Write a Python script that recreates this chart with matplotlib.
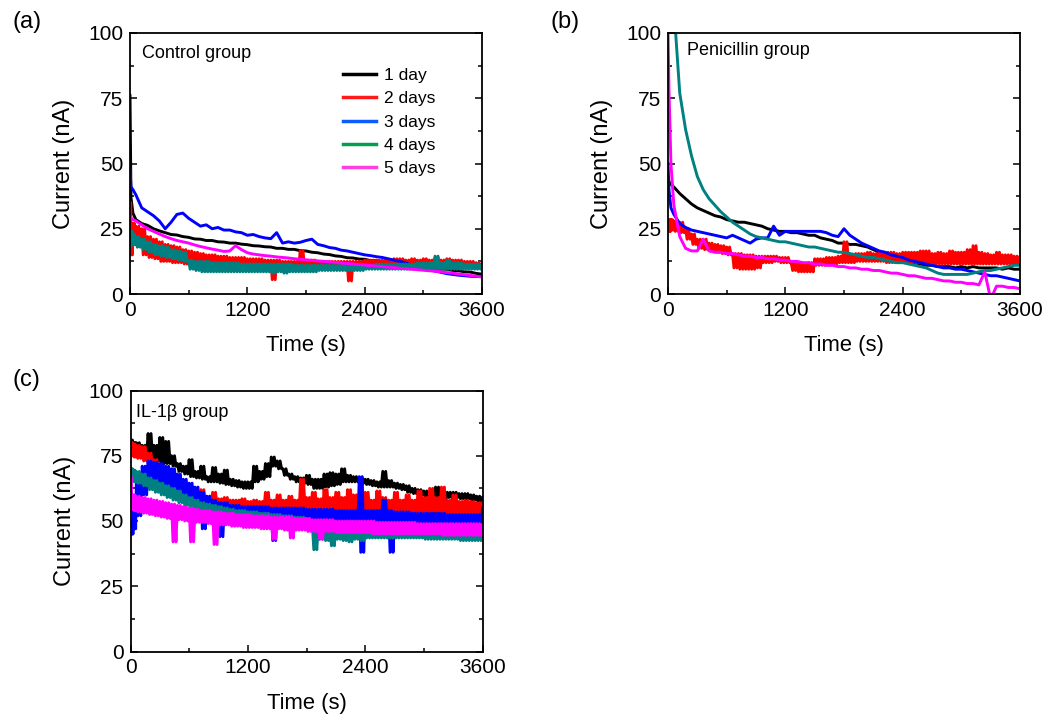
import matplotlib
matplotlib.use('Agg')
import matplotlib.pyplot as plt
from matplotlib.lines import Line2D
from matplotlib.ticker import MultipleLocator
import numpy as np

plt.rcParams['font.family'] = ['Liberation Sans', 'DejaVu Sans']

# common time grid (s)
time = [0, 10, 30] + list(range(60, 3601, 60))

labels = ['1 day', '2 days', '3 days', '4 days', '5 days']
colors = ['#000000', '#ff0000', '#0000ff', '#008080', '#ff00ff']
legend_colors = ['#000000', '#ff1a1a', '#0b5cff', '#00a050', '#ff40e0']

# noisy traces are stored as upper / lower envelope

# (a) Control group
ctrl_1 = [76, 37, 31, 28.5, 27, 26.3, 25, 24.2, 23.5, 22.8, 22.6, 22, 21.7, 21.1, 21, 20.5, 20.5, 20,
          19.9, 19.5, 19.5, 19.1, 18.9, 18.5, 18.4, 18.1, 18, 17.5, 17.5, 17.1, 17.1, 16.6, 16.5, 16,
          15.8, 15.3, 15.1, 14.6, 14.4, 13.9, 13.8, 13.4, 13.3, 12.8, 12.8, 12.3, 12.2, 11.7, 11.6, 11.1,
          11, 10.5, 10.4, 10, 10, 9.5, 9.5, 9, 8.9, 8.5, 8.4, 7.9, 7.6]
ctrl_2_hi = [35, 24, 27, 26, 25, 22, 21, 20, 19, 18.5, 18, 17, 16.5, 16, 15.5, 15, 15, 14.5,
             14.5, 14, 14, 14, 13.5, 13.5, 13.5, 13, 13, 13, 12.5, 12.5, 12.5, 16.5, 12.5, 13, 12.5, 12.5,
             12.5, 12.5, 12.5, 12.5, 12.5, 12.5, 13, 13, 13, 13, 13, 13.5, 13.5, 13, 13.5, 13, 13.5, 13,
             14, 13, 13.5, 13, 13, 12.5, 12.5, 12, 11.5]
ctrl_2_lo = [35, 15, 20, 18, 15, 14, 13.5, 12.5, 12.5, 12, 12, 11.5, 11.5, 11, 11, 10.5, 10.5, 10.5,
             10, 10, 10, 10, 10, 9.5, 9.5, 9.5, 5.5, 9.5, 9, 9, 9, 9, 9, 9, 9.5, 9.5,
             9.5, 9.5, 9.5, 5, 10, 10, 10, 10, 10, 10, 10.5, 10.5, 10.5, 10.5, 10.5, 10.5, 10.5, 10.5,
             10.5, 10.5, 10.5, 10.5, 10, 10, 10, 10, 10]
ctrl_3 = [48, 41, 40, 38, 33, 31.5, 30, 28, 25, 27.5, 30.5, 31, 29, 27.5, 26, 26.5, 25, 25.5,
          24.5, 24.5, 23.8, 23.5, 22.5, 22.8, 22, 21.5, 21.2, 23.5, 19.5, 20, 19.5, 19.8, 20.5, 21,
          19, 18.5, 17.8, 17.5, 16.8, 16.5, 16, 15.5, 15, 14.7, 14.3, 14, 13.5, 13, 12.5, 12,
          11, 10.3, 9.8, 9.3, 8.8, 8.3, 7.8, 7.5, 7.2, 7, 6.8, 6.7, 6.8]
ctrl_4_hi = [22, 24, 23, 22, 21, 20, 19, 18.5, 18, 17, 16.5, 16, 13, 12.5, 12.5, 12.5, 12, 12,
             12, 12, 12, 11.5, 11.5, 11.5, 11.5, 11.5, 11.5, 11.5, 11.5, 11.5, 11, 11, 11, 11, 11, 11,
             11, 11, 11, 11, 11, 11, 11, 11, 11.5, 11.5, 11.5, 11.5, 11.5, 11.5, 11.5, 12, 12, 12,
             14.5, 12, 13, 12, 12, 11.5, 11.5, 11.5, 11]
ctrl_4_lo = [18, 19, 19, 18, 17, 16, 15, 14.5, 14, 13.5, 13, 12.5, 9.5, 9, 8.5, 8.5, 8.5, 8.5,
             8.5, 8.5, 8.5, 8.5, 8.5, 8.5, 8.5, 8.5, 8, 8.5, 8, 8.5, 8.5, 8.5, 8.5, 8.5, 9, 9,
             9, 9, 9, 9, 9, 9, 9.5, 9.5, 9.5, 9.5, 9.5, 9.5, 9.5, 9.5, 9.5, 9.5, 9.5, 9.5,
             9.5, 9.5, 9.5, 9.5, 9.5, 9.5, 9.5, 9.5, 9.5]
ctrl_5 = [30, 29, 28.5, 28, 26.5, 25, 24, 23, 22, 21.2, 20.5, 20, 19.5, 18.8, 18.2, 17.7, 17.2, 16.8,
          16.3, 16.5, 18.5, 17, 15.8, 15.3, 15, 14.7, 14.5, 14.2, 14, 13.8, 13.5, 13.3, 13.1, 12.9,
          12.7, 12.5, 12.3, 12.1, 11.9, 11.7, 11.5, 11.3, 11.1, 10.9, 10.7, 10.5, 10.3, 10.1, 9.9, 9.7,
          9.5, 9.3, 9.1, 8.9, 8.7, 8.5, 8.2, 8, 7.7, 7.4, 7.1, 6.8, 6.5]

# (b) Penicillin group
pen_1 = [45, 43, 42, 41, 38.5, 36.5, 34.5, 33, 32, 31, 30, 29.5, 28.5, 28, 27.5, 27.5, 27, 26.5,
         26, 25, 24.5, 24, 24, 23.5, 23.5, 23, 22.5, 22.5, 21.5, 21, 20.5, 19.5, 19.5, 19, 19, 18.5,
         18, 17, 16, 15.5, 14.5, 14, 13.5, 12.5, 12, 11.5, 11, 11, 10.5, 10.5, 10.5, 10, 10.5, 10,
         10.5, 10, 10, 10, 10, 9.5, 10, 9.5, 9.5]
pen_2_hi = [27, 28.5, 28.5, 28, 27.5, 25, 23, 21, 21, 19.5, 19, 18.5, 18, 15.5, 15.5, 15, 15, 14.5,
            14.5, 14.5, 14.5, 14, 14, 12, 12, 11.5, 12, 13.5, 13.5, 14, 14, 14.5, 20, 15, 15.5, 15.5,
            16, 15.5, 16, 16, 16, 15.5, 16, 16, 16, 16.5, 16.5, 15.5, 16, 15.5, 16.5, 16, 16, 17,
            18.5, 16, 15.5, 15, 16, 15, 15, 14.5, 14]
pen_2_lo = [24, 24, 24.5, 24, 23.5, 21, 19, 17.5, 17, 16.5, 16, 15.5, 15, 10, 9.5, 9.5, 9.5, 10,
            12, 12, 12.5, 12, 12, 9, 8.5, 8.5, 8.5, 11, 11, 11, 11.5, 12, 12, 12, 12.5, 12.5,
            12.5, 12.5, 12.5, 12, 12, 12, 12, 12, 12, 12, 12, 11.5, 11.5, 11.5, 11.5, 11.5, 11.5, 11.5,
            11.5, 11.5, 11.5, 11.5, 11.5, 11.5, 11.5, 11.5, 11.5]
pen_3 = [50, 40, 33, 30.5, 27, 25.5, 24.5, 24, 23.5, 23, 22.5, 22, 21.5, 22.5, 21.5, 20.5, 19.5, 21,
         21.5, 21.5, 26, 22.5, 24, 24, 24, 24, 24, 24, 24, 23.5, 22.5, 22, 25, 22.5, 21, 19.5,
         18.5, 17.5, 16.5, 16, 15, 14.5, 14, 13, 12.5, 12, 11.5, 11, 10.5, 10, 10, 9.5, 9.5, 9,
         8.5, 8, 7.5, 7, 7, 6.5, 6, 5.5, 5]
pen_4 = [np.nan, np.nan, 170, 110, 77, 63, 53, 45, 40, 36.5, 34, 31.5, 29.5, 27.5, 26, 24.5, 23, 22,
         21.5, 21, 20.5, 20, 20, 19.5, 19, 18.5, 18, 18, 17.5, 17, 16.5, 16, 16, 15.5, 15, 14.5,
         14, 14, 13.5, 13, 12.5, 12, 12, 11.5, 11, 10.5, 10, 9, 8, 7.5, 7.5, 7.5, 7.5, 7.5,
         8, 8.5, 9, 9, 9.5, 10, 10.5, 11, 11]
pen_5 = [100, 78, 50, 34, 22, 17.5, 16.5, 16.5, 21, 16.5, 16, 16, 15.5, 15.5, 15, 14.5, 14.5, 14,
         14, 13.5, 13.5, 13, 13, 12.5, 12.5, 12, 12, 11.5, 11.5, 11, 11, 10.5, 10.5, 10, 10, 9.5,
         9.5, 9, 9, 8.5, 8, 8, 7.5, 7, 7, 6.5, 6, 6, 5.5, 5, 5, 4.5, 4.5, 4,
         4, 3.5, 8.5, -2, 3, 3, 2.5, 2.5, 2]

# (c) IL-1beta group
il_1_hi = [81, 81, 80, 80, 79, 83.5, 79, 82, 80.5, 75, 72, 71, 73.5, 69, 71, 67, 70.5, 68,
           69.5, 66, 65.5, 65, 65, 71, 69, 72, 74.5, 73, 70, 68, 67, 66.5, 67.5, 66, 66, 68,
           68.5, 68, 70, 67.5, 67, 66.5, 66, 65.5, 65, 69, 65.5, 64.5, 64, 63.5, 62.5, 62, 61.5, 61,
           63, 61, 61, 61, 60.5, 60.5, 60, 59.5, 59]
il_1_lo = [79.5, 79, 78, 77, 75, 74, 73, 72, 72, 71, 69, 68, 67, 66.5, 66, 65, 65, 64.5,
           64, 63.5, 63, 62.5, 62.5, 65, 66, 67, 71, 70, 67.5, 66, 65, 64.5, 64, 62.5, 62.5, 63,
           63.5, 64, 65, 65, 65, 64.5, 64, 63.5, 63, 63, 63, 62.5, 62, 61, 60.5, 60, 59.5, 59,
           59, 58.5, 59, 59, 58.5, 58.5, 58, 57.5, 57.5]
il_2_hi = [80, 80, 79.5, 79, 78.5, 76, 73.5, 71, 69, 67, 65, 63, 61.5, 60.5, 62, 59.5, 61, 58.5,
           59, 58, 58, 58.5, 57.5, 58, 57.5, 61, 58, 60, 58, 59.5, 58, 66, 59, 61, 58.5, 62,
           59, 61, 59, 62, 60, 58.5, 61, 58, 61.5, 59, 58, 61, 58, 60, 58, 61.5, 59, 62.5,
           59, 63, 58, 60, 57.5, 58, 57.5, 57, 57]
il_2_lo = [76, 75, 74.5, 74, 73, 70, 67.5, 65.5, 63.5, 61.5, 59.5, 58, 57, 56, 56, 55.5, 55.5, 55,
           55, 55, 54.5, 55, 54.5, 54.5, 54.5, 54.5, 54.5, 54.5, 54, 54, 54, 54, 54, 54, 53.5, 54,
           54, 54, 53.5, 54, 53.5, 52, 53.5, 53, 53.5, 53, 52.5, 53, 53, 53, 53, 53, 53, 53,
           53, 53, 52.5, 53, 52.5, 52.5, 52.5, 52.5, 52.5]
il_3_hi = [50, 49, 58, 66, 71, 73, 72.5, 72, 71, 70, 68, 66, 64.5, 63, 61, 59.5, 58, 57,
           57, 56, 56, 55.5, 55.5, 55.5, 55.5, 55.5, 55, 55, 55, 55, 55, 55, 54.5, 54.5, 54.5, 54.5,
           54.5, 54, 54, 54, 54, 67, 54, 54, 54, 58, 54, 53.5, 53.5, 53.5, 53, 53, 53, 53,
           53, 53, 52.5, 52.5, 52.5, 52.5, 52.5, 52.5, 55]
il_3_lo = [45, 45, 47, 52, 60, 64, 65, 63, 62, 60, 59, 57.5, 56, 54.5, 47, 53, 52.5, 44,
           52, 51.5, 51.5, 51, 51, 51, 51, 51, 42.5, 50.5, 50.5, 50.5, 50, 50, 50, 50, 49.5, 49.5,
           49.5, 49.5, 49, 49, 49, 38, 49, 49, 48.5, 48.5, 38, 48.5, 48.5, 48, 48, 48, 48, 48,
           48, 47.5, 47.5, 47.5, 47, 47, 47, 47, 47]
il_4_hi = [70, 70, 69.5, 69, 68, 66.5, 65.5, 64.5, 63.5, 62.5, 61.5, 60, 59, 58, 57, 56.5, 56, 55.5,
           55, 54.5, 54, 54, 53.5, 53.5, 53, 53, 52.5, 52.5, 52, 52, 51.5, 51.5, 51, 48.5, 48, 48,
           48, 48.5, 47.5, 47.5, 47.5, 47.5, 47, 47, 47, 47, 46.5, 46.5, 46.5, 46.5, 46.5, 46, 46, 46,
           46, 46, 45.5, 45.5, 45.5, 45.5, 45.5, 45, 45]
il_4_lo = [66, 65.5, 65, 64.5, 63.5, 62, 61, 60, 59, 58, 57, 56, 55, 54, 53.5, 53, 52.5, 52,
           51.5, 51, 51, 50.5, 50.5, 50, 50, 49.5, 49.5, 49, 49, 48.5, 48.5, 48, 47.5, 39, 43, 42.5,
           40.5, 43, 42.5, 42, 43, 42.5, 43.5, 43.5, 43.5, 43.5, 43.5, 43.5, 43.5, 43.5, 43.5, 43.5, 43, 43,
           43, 43, 43, 43, 42.5, 42.5, 42.5, 42.5, 42.5]
il_5_hi = [67, 60, 60, 59.5, 59, 58.5, 58, 57.5, 57, 56.5, 56, 55.5, 55, 54.5, 54, 54, 53.5, 53.5,
           53, 53, 52.5, 52.5, 52.5, 52, 52, 52, 51.5, 51.5, 51.5, 51.5, 51, 51, 51, 50.5, 50.5, 50.5,
           50.5, 50, 50, 50, 50, 50, 50, 50, 49.5, 49.5, 49.5, 49.5, 49.5, 49.5, 49.5, 49, 49, 49,
           49, 49, 49, 49, 49, 49, 49, 49, 48.5]
il_5_lo = [55, 54.5, 54, 53.5, 53, 52.5, 52, 51.5, 51, 42, 50.5, 50, 42, 49.5, 49.5, 49, 41, 48.5,
           48.5, 48, 48, 47.5, 47.5, 47.5, 47, 47, 43, 47, 46.5, 43.5, 46.5, 46.5, 46, 46, 43, 46,
           46, 45.5, 45.5, 45.5, 45.5, 45.5, 45.5, 45, 45, 45, 45, 45, 45, 45, 45, 45, 45, 45,
           45, 44.5, 44.5, 44.5, 44.5, 44.5, 44.5, 44.5, 44.5]


def trace(s):
    # plain list -> one value per grid time; (hi, lo) -> swing between the envelope edges
    if not isinstance(s, tuple):
        return time, s
    hi, lo = s
    t, y = [], []
    for i in range(len(time) - 1):
        dt = (time[i + 1] - time[i]) / 4
        t += [time[i], time[i] + dt, time[i] + 2 * dt, time[i] + 3 * dt]
        y += [hi[i], lo[i], hi[i], lo[i]]
    t.append(time[-1])
    y.append(hi[-1])
    return t, y


panels = [
    ('(a)', 'Control group',
     [ctrl_1, (ctrl_2_hi, ctrl_2_lo), ctrl_3, (ctrl_4_hi, ctrl_4_lo), ctrl_5], [130, 33], (0.033, 0.92)),
    ('(b)', 'Penicillin group',
     [pen_1, (pen_2_hi, pen_2_lo), pen_3, pen_4, pen_5], [668, 33], (0.053, 0.932)),
    ('(c)', 'IL-1\u03b2 group',
     [(il_1_hi, il_1_lo), (il_2_hi, il_2_lo), (il_3_hi, il_3_lo), (il_4_hi, il_4_lo), (il_5_hi, il_5_lo)],
     [130.5, 390.5], (0.015, 0.916)),
]

W, H = 1052, 719
fig = plt.figure(figsize=(W / 100, H / 100), dpi=100)

axes = []
for tag, name, series, (px, py), (tx, ty) in panels:
    ax = fig.add_axes([px / W, 1 - (py + 261) / H, 352 / W, 261 / H])
    for s, c in zip(series, colors):
        t, y = trace(s)
        ax.plot(t, y, color=c, lw=2.1)
    ax.set_xlim(0, 3600)
    ax.set_ylim(0, 100)
    ax.set_xticks([0, 1200, 2400, 3600])
    ax.set_yticks([0, 25, 50, 75, 100])
    ax.xaxis.set_minor_locator(MultipleLocator(600))
    ax.yaxis.set_minor_locator(MultipleLocator(12.5))
    ax.tick_params(which='both', direction='in', labelsize=15, width=1.1, right=True)
    ax.tick_params(which='major', length=5)
    ax.tick_params(which='minor', length=3)
    ax.tick_params(axis='x', pad=5)
    ax.tick_params(axis='y', pad=5)
    for sp in ax.spines.values():
        sp.set_linewidth(1.3)
    ax.set_xlabel('Time (s)', fontsize=15.8, labelpad=11)
    ax.set_ylabel('Current (nA)', fontsize=17, labelpad=9)
    ax.text(tx, ty, name, transform=ax.transAxes, fontsize=13, va='center')
    fig.text((px - 118) / W, 1 - (py - 11) / H, tag, fontsize=17, va='center', ha='left')
    axes.append(ax)

handles = [Line2D([], [], color=c, lw=2.5) for c in legend_colors]
axes[0].legend(handles, labels, loc='upper left', bbox_to_anchor=(0.605, 0.866), frameon=False,
               fontsize=12.5, handlelength=1.9, handletextpad=0.45, labelspacing=0.47,
               borderpad=0, borderaxespad=0)

fig.savefig('out.png', dpi=100)
